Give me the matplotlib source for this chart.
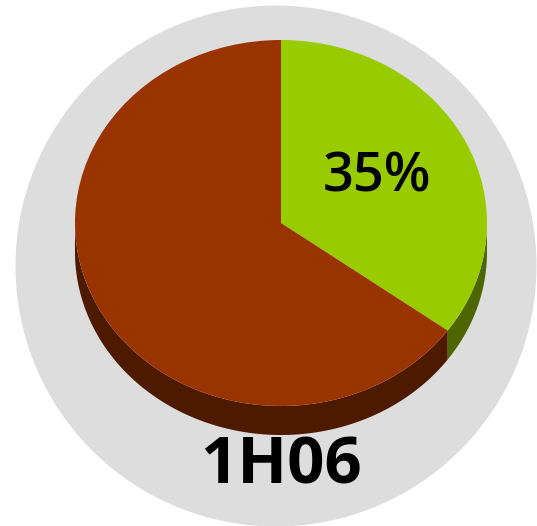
import numpy as np
import matplotlib
matplotlib.use("Agg")
import matplotlib.pyplot as plt
from matplotlib.patches import Ellipse

labels = ['1H06', 'other']
shares = [35, 65]
colors = ['#99cc00', '#993300']
side_colors = ['#4d6600', '#4d1a00']
period = '1H06'

W, H = 537, 526
fig = plt.figure(figsize=(W / 100, H / 100), dpi=100)

# background disc
bg = fig.add_axes([0, 0, 1, 1])
bg.set_xlim(0, W)
bg.set_ylim(H, 0)
bg.axis('off')
bg.add_patch(Ellipse((276, 266), 521, 521, color='#dddddd', lw=0))
bg.text(281.5, 467, period, ha='center', va='center', fontsize=47,
        fontfamily='Open Sans', fontweight='bold', color='black')

# pie top face is an ellipse: center (281,223), rx 206, ry 183, depth 29 px
cx, cy, rx, ry, depth = 281, 223, 206, 183, 29
d = depth / ry
left, right = cx - rx, cx + rx
top, bottom = cy - ry, cy + ry + depth
ax = fig.add_axes([left / W, 1 - bottom / H, (right - left) / W, (bottom - top) / H])

# side walls (front half only)
ang = 90.0
for share, sc in zip(shares, side_colors):
    a1 = ang - share * 3.6
    a2 = ang
    ang = a1
    t = np.linspace(a1, a2, 400)
    t = t[np.sin(np.radians(t)) <= 0]
    if len(t) < 2:
        continue
    x = np.cos(np.radians(t))
    y = np.sin(np.radians(t))
    ax.fill(np.concatenate([x, x[::-1]]), np.concatenate([y, y[::-1] - d]),
            color=sc, lw=0)

wedges, texts, autotexts = ax.pie(
    shares, colors=colors, startangle=90, counterclock=False,
    autopct=lambda p: '%d%%' % round(p) if p < 50 else '',
    pctdistance=0.52, wedgeprops=dict(linewidth=0))
for t in autotexts:
    t.set_fontsize(39)
    t.set_fontfamily('Open Sans')
    t.set_fontweight('semibold')
    t.set_color('black')
    t.set_y(t.get_position()[1] + 0.01)
ax.set_aspect('auto')
ax.set_xlim(-1, 1)
ax.set_ylim(-1 - d, 1)
ax.axis('off')

fig.savefig('out.png', dpi=100)
